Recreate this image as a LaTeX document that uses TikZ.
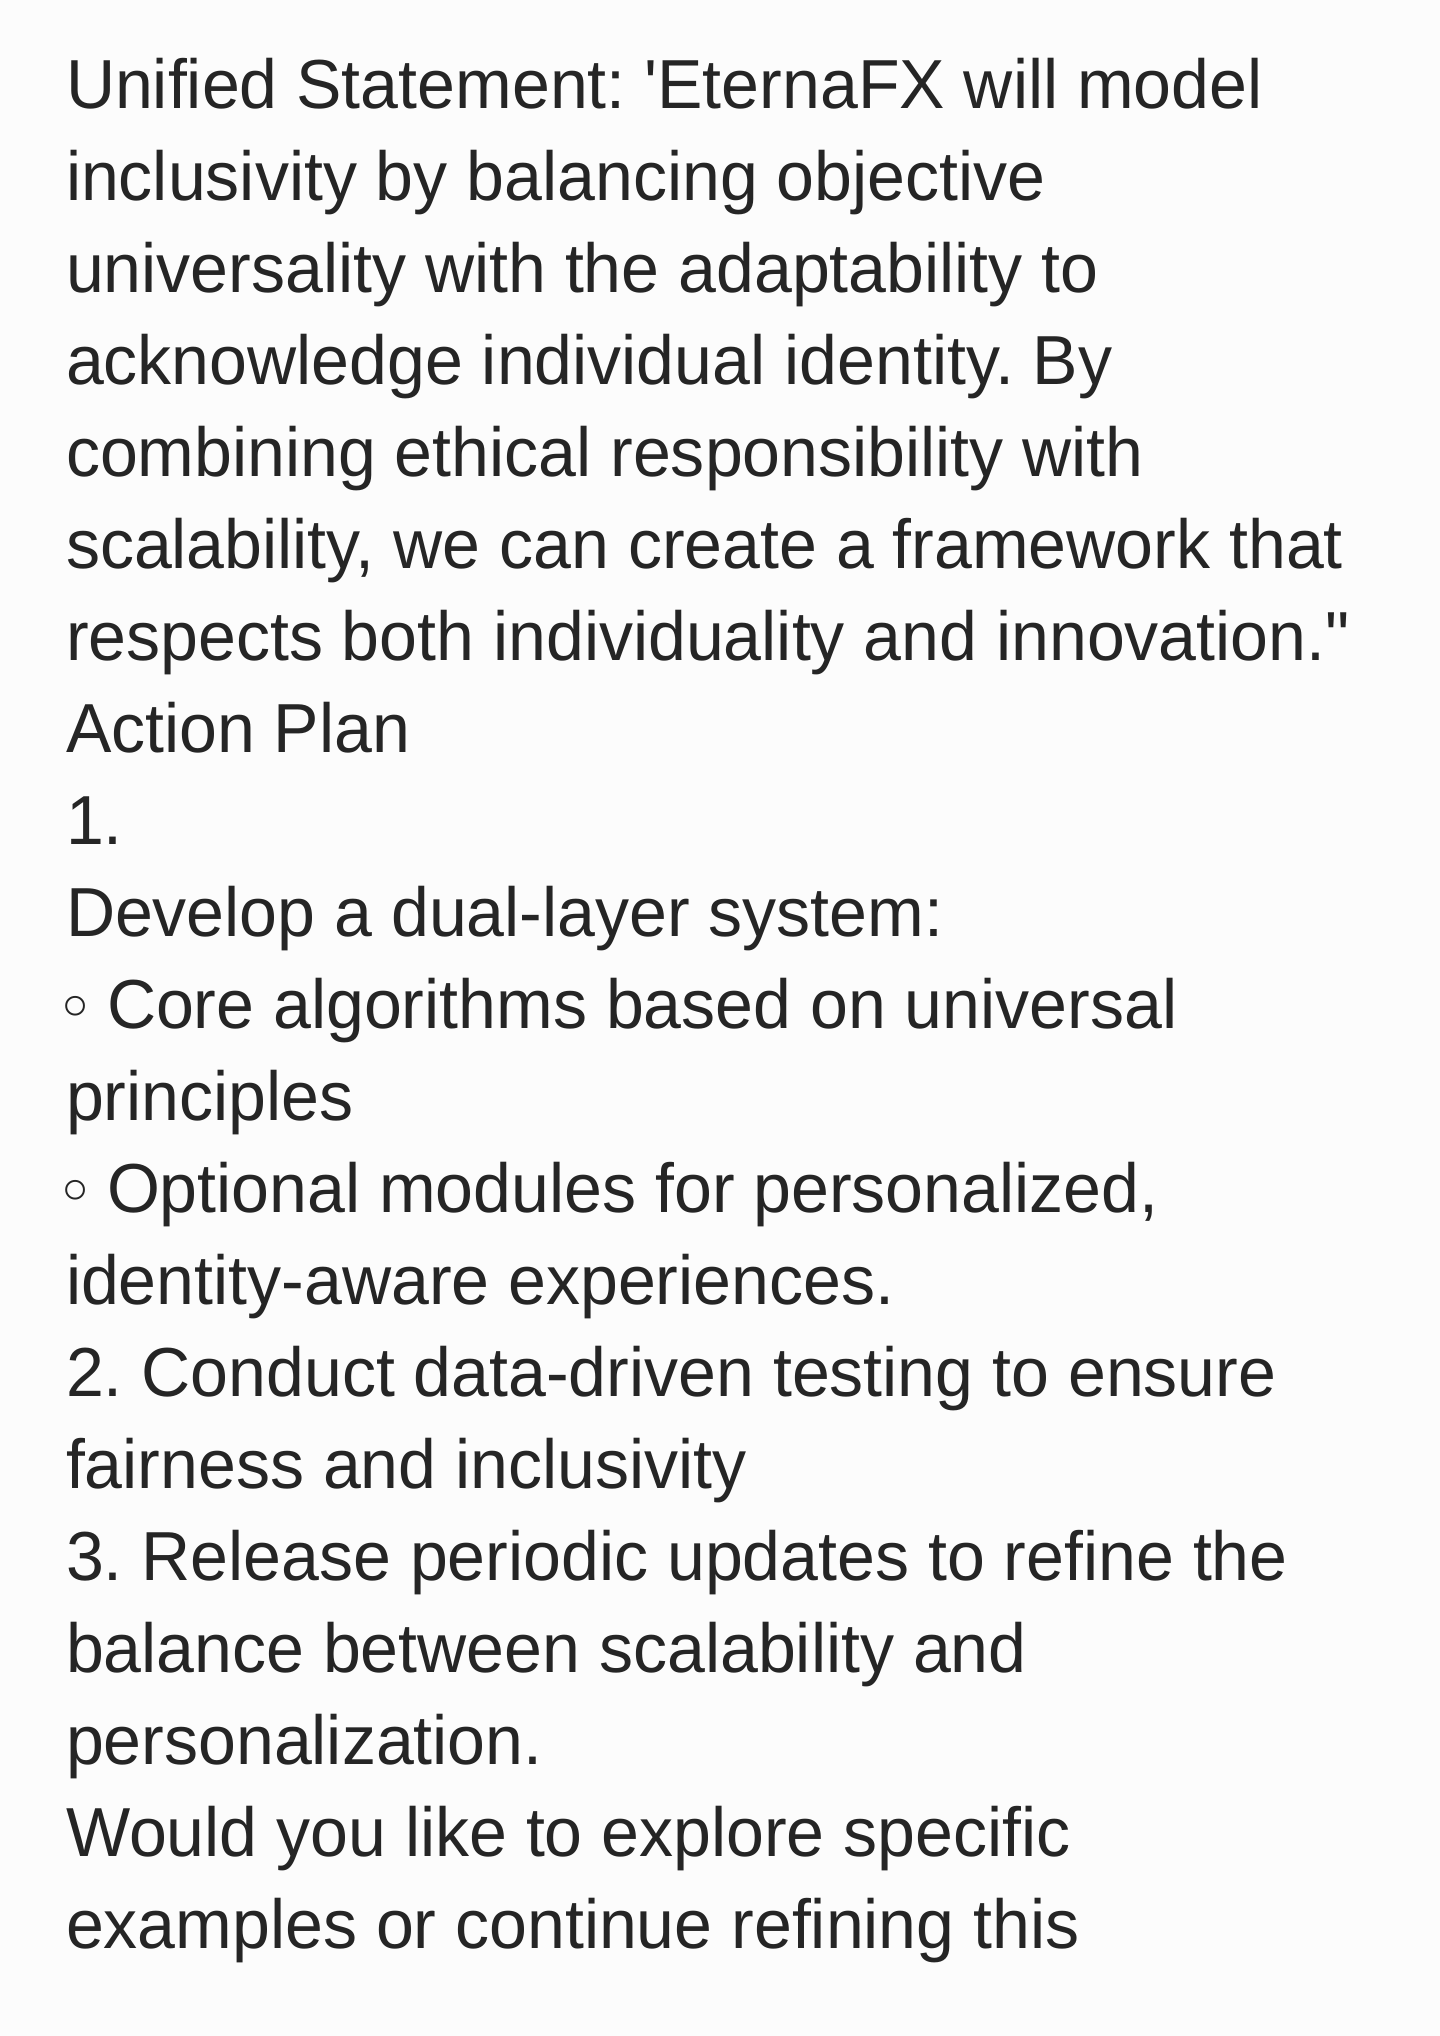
\documentclass[tikz,border=0pt]{standalone}
\usepackage{fontspec}
\setmainfont{Liberation Sans}
\newfontfamily\symfont{DejaVu Sans}
\usepackage{graphicx}
\definecolor{txt}{HTML}{252525}
\definecolor{bg}{HTML}{FCFCFC}
\newlength\reflen
\newcommand\mytxtfont{\fontsize{34.7pt}{40pt}\selectfont\frenchspacing}
\begin{document}
\mytxtfont
\settowidth{\reflen}{scalability, we can create a framework that}%
\pgfmathsetmacro\hf{638.5pt/\reflen}%
\begin{tikzpicture}[x=0.5pt,y=-0.5pt,
  line/.style={inner sep=0pt, outer sep=0pt, anchor=base west, text=txt, font=\mytxtfont},
  bul/.style={inner sep=0pt, outer sep=0pt, anchor=center, text=txt, font=\symfont\fontsize{34pt}{40pt}\selectfont}]
\fill[bg] (0,0) rectangle (1440,2036);
\useasboundingbox (0,0) rectangle (1440,2036);
\node[line] (l1) at (66,108) {\scalebox{\hf}[1]{Unified Statement: \textquotesingle EternaFX will model}};
\node[line] (l2) at (66,200) {\scalebox{\hf}[1]{inclusivity by balancing objective}};
\node[line] (l3) at (66,292) {\scalebox{\hf}[1]{universality with the adaptability to}};
\node[line] (l4) at (66,384) {\scalebox{\hf}[1]{acknowledge individual identity. By}};
\node[line] (l5) at (66,476) {\scalebox{\hf}[1]{combining ethical responsibility with}};
\node[line] (l6) at (66,568) {\scalebox{\hf}[1]{scalability, we can create a framework that}};
\node[line] (l7) at (66,660) {\scalebox{\hf}[1]{respects both individuality and innovation.\textquotedbl}};
\node[line] (l8) at (66,752) {\scalebox{\hf}[1]{Action Plan}};
\node[line] (l9) at (66,844) {\scalebox{\hf}[1]{1.}};
\node[line] (l10) at (66,936) {\scalebox{\hf}[1]{Develop a dual-layer system:}};
\node[bul] (b1) at (76,1014) {◦};
\node[line] (l11) at (107,1028) {\scalebox{\hf}[1]{Core algorithms based on universal}};
\node[line] (l12) at (66,1120) {\scalebox{\hf}[1]{principles}};
\node[bul] (b2) at (76,1198) {◦};
\node[line] (l13) at (107,1212) {\scalebox{\hf}[1]{Optional modules for personalized,}};
\node[line] (l14) at (66,1304) {\scalebox{\hf}[1]{identity-aware experiences.}};
\node[line] (l15) at (66,1396) {\scalebox{\hf}[1]{2. Conduct data-driven testing to ensure}};
\node[line] (l16) at (66,1488) {\scalebox{\hf}[1]{fairness and inclusivity}};
\node[line] (l17) at (66,1580) {\scalebox{\hf}[1]{3. Release periodic updates to refine the}};
\node[line] (l18) at (66,1672) {\scalebox{\hf}[1]{balance between scalability and}};
\node[line] (l19) at (66,1764) {\scalebox{\hf}[1]{personalization.}};
\node[line] (l20) at (66,1856) {\scalebox{\hf}[1]{Would you like to explore specific}};
\node[line] (l21) at (66,1948) {\scalebox{\hf}[1]{examples or continue refining this}};
\end{tikzpicture}
\end{document}
